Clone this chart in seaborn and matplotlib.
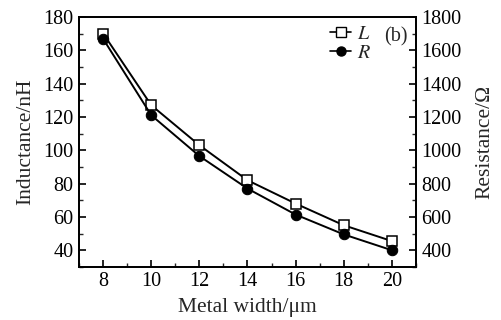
import pandas as pd
import seaborn as sns
import matplotlib.pyplot as plt
from matplotlib.ticker import MultipleLocator
from matplotlib.lines import Line2D

# values
width_um = [8, 10, 12, 14, 16, 18, 20]
inductance_nH = [170, 127, 103, 82, 68, 55, 45.5]
resistance_ohm = [1668, 1210, 965, 770, 614, 495, 400]

sns.set_style("ticks")
plt.rcParams["font.family"] = ["Liberation Serif", "DejaVu Serif"]
plt.rcParams["mathtext.fontset"] = "stix"
plt.rcParams["xtick.direction"] = "in"
plt.rcParams["ytick.direction"] = "in"

df = pd.DataFrame({"w": width_um, "L": inductance_nH, "R": resistance_ohm})

fig, ax = plt.subplots(figsize=(5.01, 3.2), dpi=100)
fig.subplots_adjust(left=0.158, right=0.830, top=0.947, bottom=0.166)
ax2 = ax.twinx()

sns.lineplot(data=df, x="w", y="L", ax=ax, color="black", lw=1.4,
             marker="s", markersize=7.5, markerfacecolor="white",
             markeredgecolor="black", markeredgewidth=1.1)
sns.lineplot(data=df, x="w", y="R", ax=ax2, color="black", lw=1.4,
             marker="o", markersize=7.5, markerfacecolor="black",
             markeredgecolor="black")

ax.set_xlim(7, 21)
ax.set_ylim(30, 180)
ax2.set_ylim(300, 1800)
ax.xaxis.set_major_locator(MultipleLocator(2))
ax.xaxis.set_minor_locator(MultipleLocator(1))
ax.yaxis.set_major_locator(MultipleLocator(20))
ax.yaxis.set_minor_locator(MultipleLocator(10))
ax2.yaxis.set_major_locator(MultipleLocator(200))
ax2.yaxis.set_minor_locator(MultipleLocator(100))

for a in (ax, ax2):
    for s in a.spines.values():
        s.set_visible(True)
        s.set_linewidth(1.3)
        s.set_color("black")
    a.tick_params(which="major", length=5, width=1.2, labelsize=14.5, colors="black", pad=4)
    a.tick_params(which="minor", length=3, width=1.0)
ax.tick_params(axis="y", which="both", right=False)
ax2.tick_params(axis="y", which="both", left=False, right=True)

ax.set_xlabel("Metal width/\u03bcm", fontsize=15.5, labelpad=5)
ax.set_ylabel("Inductance/nH", fontsize=15.5, labelpad=6)
ax2.set_ylabel("Resistance/\u03a9", fontsize=15.5, labelpad=10)

handles = [
    Line2D([], [], color="black", lw=1.2, marker="s", markersize=6.5,
           markerfacecolor="white", markeredgecolor="black"),
    Line2D([], [], color="black", lw=1.2, marker="o", markersize=6.5,
           markerfacecolor="black"),
]
ax2.legend(handles, ["$L$", "$R$"], loc="upper left", frameon=False,
           fontsize=14.5, handlelength=1.05, handletextpad=0.3, labelspacing=0.0,
           borderpad=0, bbox_to_anchor=(0.745, 0.968), borderaxespad=0)
ax2.text(0.905, 0.922, "(b)", transform=ax2.transAxes, fontsize=14.5,
         ha="left", va="center")

fig.savefig("out.png", dpi=100)
